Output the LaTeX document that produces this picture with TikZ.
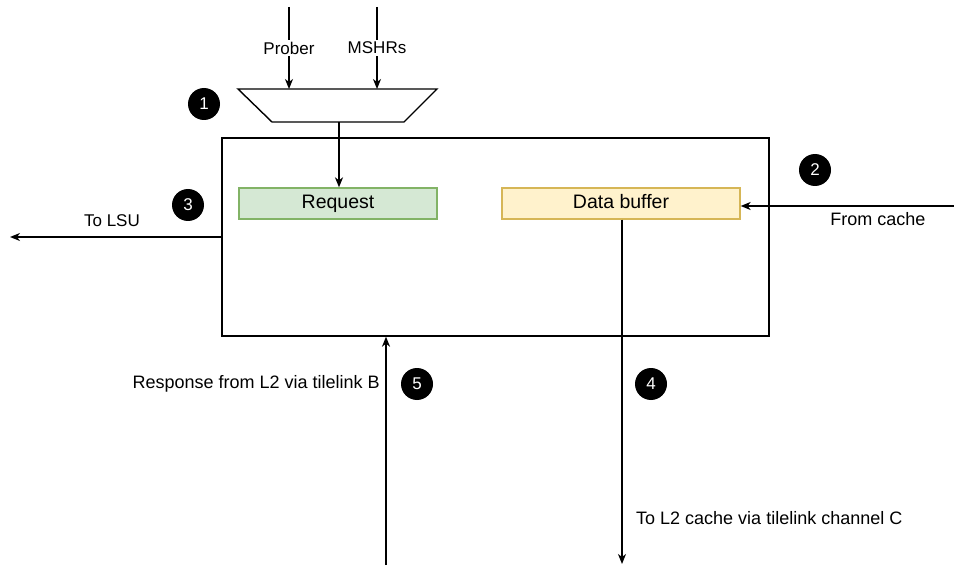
\documentclass[tikz,border=0pt]{standalone}
\usepackage{fontspec}
\setmainfont{Liberation Sans}
\usetikzlibrary{arrows.meta}
\definecolor{reqfill}{HTML}{D5E8D4}
\definecolor{reqline}{HTML}{82B366}
\definecolor{buffill}{HTML}{FFF2CC}
\definecolor{bufline}{HTML}{D6B656}
\tikzset{
  conn/.style={line width=1.4pt,-{Stealth[length=10pt,width=8pt,inset=3pt]}},
  badge/.style={circle,fill=black,text=white,minimum size=32pt,inner sep=0pt,font=\fontsize{17}{19}\selectfont},
  lbl/.style={inner sep=0pt,font=\fontsize{17}{20}\selectfont},
  lblb/.style={inner sep=0pt,font=\fontsize{18}{21}\selectfont},
  blk/.style={draw,line width=1.3pt,minimum height=31pt,inner sep=0pt,text height=13pt,text depth=3.5pt,font=\fontsize{19.5}{22}\selectfont}
}
\begin{document}
\begin{tikzpicture}[x=1pt,y=-1pt]
\useasboundingbox (0,0) rectangle (954,567);
% main box
\node[draw,line width=1.4pt,minimum width=547pt,minimum height=198pt,inner sep=0pt] (main) at (495.5,237) {};
% blocks
\node[blk,draw=reqline,fill=reqfill,minimum width=198pt] (req) at (338,203.5) {Request};
\node[blk,draw=bufline,fill=buffill,minimum width=238pt] (buf) at (621,203.5) {Data buffer};
% mux
\draw[line width=1.4pt] (238,89) -- (437,89) -- (404,122) -- (272,122) -- cycle;
\coordinate (muxin1) at (289,89);
\coordinate (muxin2) at (377,89);
\coordinate (muxout) at (339,122);
\coordinate (p0) at (289,7);
\coordinate (m0) at (377,7);
\draw[conn] (p0) -- (muxin1);
\draw[conn] (m0) -- (muxin2);
\node[lbl,fill=white,inner sep=2pt] (prober) at (289,48) {Prober};
\node[lbl,fill=white,inner sep=2pt] (mshr) at (377,48) {MSHRs};
\draw[conn] (muxout) -- (req.north -| muxout);
% to LSU
\coordinate (lsu) at (10,237);
\draw[conn] (main.west |- lsu) -- (lsu);
\node[lbl] (tolsu) at (112,221) {To LSU};
% from cache
\coordinate (cache) at (954,206);
\draw[conn] (cache) -- (buf.east |- cache);
\node[lblb] (fromcache) at (878,219) {From cache};
% to L2
\coordinate (l2out) at (622,564);
\draw[conn] (buf.south -| l2out) -- (l2out);
\node[lblb,anchor=west] (tol2) at (636,518) {To L2 cache via tilelink channel C};
% response
\coordinate (resp) at (386,565);
\draw[conn] (resp) -- (main.south -| resp);
\node[lblb,anchor=east] (resplbl) at (380,384) {Response from L2 via tilelink B};
% badges
\node[badge] (b1) at (204,104) {1};
\node[badge] (b2) at (815,170) {2};
\node[badge] (b3) at (188,205) {3};
\node[badge] (b4) at (651,384) {4};
\node[badge] (b5) at (417,384) {5};
\end{tikzpicture}
\end{document}
